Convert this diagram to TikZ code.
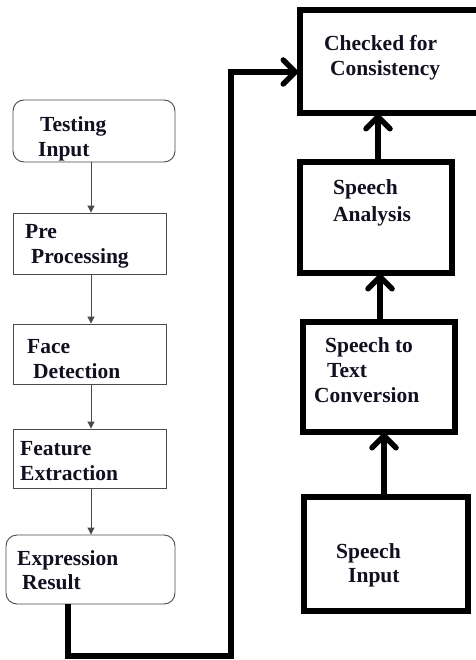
\documentclass[tikz,border=0pt]{standalone}
\usepackage{fontspec}
\setmainfont{Liberation Serif}
\usetikzlibrary{arrows.meta}
\definecolor{txt}{HTML}{101020}
\definecolor{thin}{HTML}{4a4a4a}
\begin{document}
\begin{tikzpicture}[x=1pt,y=-1pt,
  thinbox/.style={draw=thin,line width=0.9pt,fill=white,inner sep=0},
  roundbox/.style={thinbox,rounded corners=11pt},
  thickbox/.style={draw=black,line width=6pt,inner sep=0},
  lbl/.style={anchor=base west,inner sep=0,text=txt,font=\fontsize{21.5}{25}\selectfont\bfseries},
  thinarrow/.style={draw=thin,line width=1pt,-{Triangle[length=7pt,width=7pt]}},
  thickarrow/.style={draw=black,line width=5.5pt,line cap=round,-{Straight Barb[length=12pt,width=24pt,round]}},
  thickline/.style={draw=black,line width=5.5pt}
]
\useasboundingbox (0,0) rectangle (475,660);
% left column boxes
\node[roundbox,minimum width=162pt,minimum height=62pt] (ti) at (94,131) {};
\node[thinbox,minimum width=153pt,minimum height=61pt] (pp) at (89.5,243.5) {};
\node[thinbox,minimum width=153pt,minimum height=60pt] (fd) at (89.5,354) {};
\node[thinbox,minimum width=153pt,minimum height=59pt] (fe) at (89.5,458.5) {};
\node[roundbox,minimum width=169pt,minimum height=69pt] (er) at (90.5,569.5) {};
% right column boxes
\node[thickbox,minimum width=200pt,minimum height=103pt] (cc) at (400,61.5) {};
\node[thickbox,minimum width=152pt,minimum height=111pt] (sa) at (376,217.5) {};
\node[thickbox,minimum width=152pt,minimum height=110pt] (st) at (379,377) {};
\node[thickbox,minimum width=164pt,minimum height=114pt] (si) at (386,554) {};
% labels
\node[lbl] (l1a) at (40,132) {Testing};
\node[lbl] (l1b) at (38,157) {Input};
\node[lbl] (l2a) at (25,238) {Pre};
\node[lbl] (l2b) at (31,263) {Processing};
\node[lbl] (l3a) at (27,353) {Face};
\node[lbl] (l3b) at (33,378) {Detection};
\node[lbl] (l4a) at (20,455) {Feature};
\node[lbl] (l4b) at (20,480) {Extraction};
\node[lbl] (l5a) at (17,565) {Expression};
\node[lbl] (l5b) at (22,589) {Result};
\node[lbl] (r1a) at (324,51) {Checked for};
\node[lbl] (r1b) at (330,76) {Consistency};
\node[lbl] (r2a) at (333,195) {Speech};
\node[lbl] (r2b) at (333,222) {Analysis};
\node[lbl] (r3a) at (325,352) {Speech to};
\node[lbl] (r3b) at (327,377) {Text};
\node[lbl] (r3c) at (314,402) {Conversion};
\node[lbl] (r4a) at (336,558) {Speech};
\node[lbl] (r4b) at (348,582) {Input};
% thin arrows
\draw[thinarrow] (ti.south -| 91,0) -- (pp.north -| 91,0);
\draw[thinarrow] (pp.south -| 91,0) -- (fd.north -| 91,0);
\draw[thinarrow] (fd.south -| 91,0) -- (fe.north -| 91,0);
\draw[thinarrow] (fe.south -| 91,0) -- (er.north -| 91,0);
% thick connector from result to consistency
\coordinate (c1) at (68,656);
\coordinate (c2) at (231,656);
\coordinate (c3) at (231,72);
\draw[thickline,line join=miter] (er.south -| 68,0) -- (c1) -- (c2) -- (c3) -- ([xshift=-2pt]cc.west |- c3);
\draw[thickarrow] ([xshift=-16pt]cc.west |- c3) -- ([xshift=1pt]cc.west |- c3);
% thick vertical arrows
\draw[thickarrow] (si.north -| 384,0) -- ([yshift=2pt]st.south -| 384,0);
\draw[thickarrow] (st.north -| 380,0) -- ([yshift=2pt]sa.south -| 380,0);
\draw[thickarrow] (sa.north -| 378,0) -- ([yshift=2pt]cc.south -| 378,0);
\end{tikzpicture}
\end{document}
